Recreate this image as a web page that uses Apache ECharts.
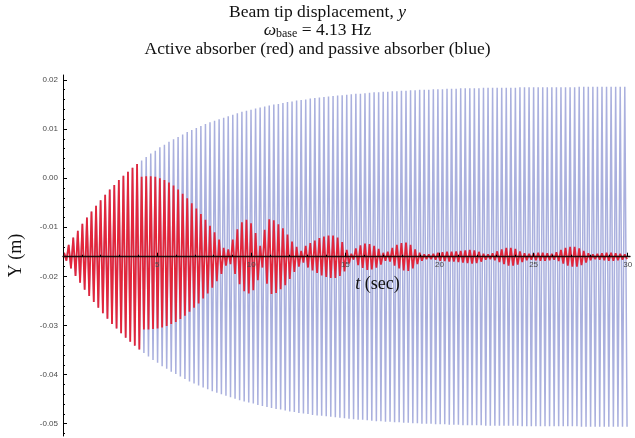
<!DOCTYPE html>
<html>
<head>
<meta charset="utf-8">
<script src="https://cdn.jsdelivr.net/npm/echarts@6/dist/echarts.min.js"></script>
<style>
  html, body { margin: 0; padding: 0; background: #fff; }
  #main { width: 635px; height: 438px; }
</style>
</head>
<body>
<div id="main"></div>
<script>
// base frequency (Hz) -> one upper and one lower peak per cycle
var baseFreq = 4.13;
var period = 1 / baseFreq;

// passive absorber (blue): peak displacements per cycle, in mm
var blueUpperMm = [
  -15.2, -13.6, -12.1, -10.7, -9.3, -8.0, -6.8, -5.6, -4.5, -3.4,
  -2.3, -1.4, -0.4, 0.5, 1.3, 2.1, 2.9, 3.6, 4.3, 5.0,
  5.6, 6.3, 6.8, 7.4, 7.9, 8.4, 8.9, 9.4, 9.8, 10.2,
  10.6, 11.0, 11.4, 11.7, 12.0, 12.3, 12.6, 12.9, 13.2, 13.5,
  13.7, 13.9, 14.2, 14.4, 14.6, 14.8, 15.0, 15.1, 15.3, 15.5,
  15.6, 15.8, 15.9, 16.0, 16.2, 16.3, 16.4, 16.5, 16.6, 16.7,
  16.8, 16.9, 17.0, 17.1, 17.2, 17.2, 17.3, 17.4, 17.5, 17.5,
  17.6, 17.6, 17.7, 17.7, 17.8, 17.8, 17.9, 17.9, 18.0, 18.0,
  18.0, 18.1, 18.1, 18.1, 18.2, 18.2, 18.2, 18.3, 18.3, 18.3,
  18.3, 18.3, 18.4, 18.4, 18.4, 18.4, 18.4, 18.4, 18.4, 18.4,
  18.5, 18.5, 18.5, 18.5, 18.5, 18.5, 18.5, 18.5, 18.5, 18.5,
  18.5, 18.5, 18.5, 18.6, 18.6, 18.6, 18.6, 18.6, 18.6, 18.6,
  18.6, 18.6, 18.6, 18.6
];
var blueLowerMm = [
  -16.8, -18.4, -19.9, -21.3, -22.7, -24.0, -25.2, -26.4, -27.5, -28.6,
  -29.7, -30.6, -31.6, -32.5, -33.3, -34.1, -34.9, -35.6, -36.3, -37.0,
  -37.6, -38.3, -38.8, -39.4, -39.9, -40.4, -40.9, -41.4, -41.8, -42.2,
  -42.6, -43.0, -43.4, -43.7, -44.0, -44.3, -44.6, -44.9, -45.2, -45.5,
  -45.7, -45.9, -46.2, -46.4, -46.6, -46.8, -47.0, -47.1, -47.3, -47.5,
  -47.6, -47.8, -47.9, -48.0, -48.2, -48.3, -48.4, -48.5, -48.6, -48.7,
  -48.8, -48.9, -49.0, -49.1, -49.2, -49.2, -49.3, -49.4, -49.5, -49.5,
  -49.6, -49.6, -49.7, -49.7, -49.8, -49.8, -49.9, -49.9, -50.0, -50.0,
  -50.0, -50.1, -50.1, -50.1, -50.2, -50.2, -50.2, -50.3, -50.3, -50.3,
  -50.3, -50.3, -50.4, -50.4, -50.4, -50.4, -50.4, -50.4, -50.4, -50.4,
  -50.5, -50.5, -50.5, -50.5, -50.5, -50.5, -50.5, -50.5, -50.5, -50.5,
  -50.5, -50.5, -50.5, -50.6, -50.6, -50.6, -50.6, -50.6, -50.6, -50.6,
  -50.6, -50.6, -50.6, -50.6
];

// active absorber (red): peak displacements per cycle, in mm
var redUpperMm = [
  -15.2, -13.6, -12.1, -10.7, -9.3, -8.0, -6.8, -5.6, -4.5, -3.4,
  -2.3, -1.4, -0.4, 0.5, 1.3, 2.1, 2.9,
  0.3, 0.4, 0.4, 0.3, 0.0, -0.4, -0.9, -1.5, -2.3, -3.2,
  -4.1, -5.1, -6.2, -7.3, -8.5, -9.7, -11.0, -12.5, -14.2,
  -14.5, -12.5, -10.4, -9.0, -8.5, -9.2, -11.2, -13.8,
  -10.5, -8.4, -8.6, -9.4, -10.2, -11.5, -12.9, -14.0, -14.8,
  -13.8, -13.2, -12.7, -12.2, -11.9, -11.7, -11.7, -12.1, -13.0, -14.6, -15.4,
  -14.3, -13.7, -13.3, -13.4, -13.8, -14.4, -15.2,
  -15.0, -14.2, -13.6, -13.2, -13.1, -13.6, -14.5, -15.2,
  -15.5, -15.5, -15.4,
  -15.2, -15.1, -15.0, -15.0, -14.9, -14.8, -14.7, -14.6, -14.7, -15.0, -15.4, -15.5,
  -15.3, -14.9, -14.5, -14.2, -14.2, -14.4, -14.9, -15.3,
  -15.4, -15.3, -15.2, -15.2, -15.3, -15.4,
  -15.1, -14.6, -14.2, -14.0, -14.0, -14.3, -14.8, -15.3,
  -15.5, -15.4, -15.3, -15.2, -15.2, -15.3, -15.4, -15.5
];
var redLowerMm = [
  -16.8, -18.4, -19.9, -21.3, -22.7, -24.0, -25.2, -26.4, -27.5, -28.6,
  -29.7, -30.6, -31.6, -32.5, -33.3, -34.1, -34.9,
  -30.8, -30.8, -30.7, -30.6, -30.4, -30.1, -29.7, -29.3, -28.7, -28.0,
  -27.2, -26.4, -25.5, -24.5, -23.5, -22.3, -21.0, -19.5, -17.8,
  -17.5, -19.5, -21.6, -23.0, -23.5, -22.8, -20.8, -18.2,
  -21.5, -23.6, -23.4, -22.6, -21.8, -20.5, -19.1, -18.0, -17.2,
  -18.2, -18.8, -19.3, -19.8, -20.1, -20.3, -20.3, -19.9, -19.0, -17.4, -16.6,
  -17.7, -18.3, -18.7, -18.6, -18.2, -17.6, -16.8,
  -17.0, -17.8, -18.4, -18.8, -18.9, -18.4, -17.5, -16.8,
  -16.5, -16.5, -16.6,
  -16.8, -16.9, -17.0, -17.0, -17.1, -17.2, -17.3, -17.4, -17.3, -17.0, -16.6, -16.5,
  -16.7, -17.1, -17.5, -17.8, -17.8, -17.6, -17.1, -16.7,
  -16.6, -16.7, -16.8, -16.8, -16.7, -16.6,
  -16.9, -17.4, -17.8, -18.0, -18.0, -17.7, -17.2, -16.7,
  -16.5, -16.6, -16.7, -16.8, -16.8, -16.7, -16.6, -16.5
];

// axes
var yMajorTicks = [-0.05, -0.04, -0.03, -0.02, -0.01, 0.00, 0.01, 0.02];
var xMajorTicks = [5, 10, 15, 20, 25, 30];
var axisCrossY = -0.016;   // the t axis is drawn through this y value
var yMin = -0.0525, yMax = 0.021;
var xMin = 0, xMax = 30.12;

var yMinorTicks = [];
for (var i = -26; i <= 10; i++) {
  if (i % 5 !== 0) yMinorTicks.push(i * 0.002);
}
var xMinorTicks = [];
for (var j = 1; j < 30; j++) {
  if (j % 5 !== 0) xMinorTicks.push(j);
}

function zigzag(up, lo) {
  var pts = [];
  for (var k = 0; k < up.length; k++) {
    pts.push([(k + 0.25) * period, up[k] / 1000]);
    pts.push([(k + 0.75) * period, lo[k] / 1000]);
  }
  return pts;
}

// plot box
var plotLeft = 63, plotRight = 5, plotTop = 75, plotHeight = 361;
// second (empty) grid whose bottom edge sits on y = axisCrossY, carries the t axis
var crossHeight = plotHeight * (yMax - axisCrossY) / (yMax - yMin);

var serif = '"Liberation Serif", "DejaVu Serif", serif';
var tickFont = { color: '#4a4a4a', fontSize: 8, fontFamily: '"Liberation Sans", Arial, sans-serif' };

var chart = echarts.init(document.getElementById('main'));

var option = {
  animation: false,
  backgroundColor: '#fff',
  title: {
    left: 'center',
    top: 3,
    padding: 0,
    text: 'Beam tip displacement, {i|y}\n{i|\u03c9}{sub|base} = 4.13 Hz\nActive absorber (red) and passive absorber (blue)',
    textStyle: {
      fontFamily: serif, fontSize: 17.5, fontWeight: 'normal', color: '#111', lineHeight: 18.5,
      rich: {
        i: { fontStyle: 'italic', fontFamily: serif, fontSize: 17.5, color: '#111', lineHeight: 18.5 },
        sub: { fontFamily: serif, fontSize: 12, color: '#111', lineHeight: 8, verticalAlign: 'bottom' }
      }
    }
  },
  grid: [
    { left: plotLeft, right: plotRight, top: plotTop, height: plotHeight, containLabel: false, outerBoundsMode: 'none' },
    { left: plotLeft, right: plotRight, top: plotTop, height: crossHeight, containLabel: false, outerBoundsMode: 'none' }
  ],
  xAxis: [
    {
      gridIndex: 0, type: 'value', min: xMin, max: xMax, show: false
    },
    {
      gridIndex: 1, type: 'value', min: xMin, max: xMax, position: 'bottom', z: 10,
      axisLine: { onZero: false, lineStyle: { color: '#1a0a0a', width: 1.3 } },
      axisTick: { inside: true, length: 4, customValues: xMajorTicks, lineStyle: { color: '#000' } },
      axisLabel: { customValues: xMajorTicks, margin: 4, ...tickFont },
      splitLine: { show: false },
      name: '{i|t} (sec)',
      nameLocation: 'middle',
      nameGap: 19,
      nameTextStyle: {
        fontFamily: serif, fontSize: 18, color: '#111', padding: [0, 0, 0, 62],
        rich: { i: { fontStyle: 'italic', fontFamily: serif, fontSize: 18 } }
      }
    },
    {
      gridIndex: 1, type: 'value', min: xMin, max: xMax, position: 'bottom', z: 10,
      axisLine: { show: false, onZero: false },
      axisTick: { inside: true, length: 2, customValues: xMinorTicks, lineStyle: { color: '#000' } },
      axisLabel: { show: false },
      splitLine: { show: false }
    }
  ],
  yAxis: [
    {
      gridIndex: 0, type: 'value', min: yMin, max: yMax, position: 'left', z: 5,
      axisLine: { show: true, onZero: false, lineStyle: { color: '#000', width: 1 } },
      axisTick: { show: true, inside: true, length: 4, customValues: yMajorTicks, lineStyle: { color: '#000' } },
      axisLabel: {
        customValues: yMajorTicks, margin: 5, ...tickFont,
        formatter: function (v) { return v.toFixed(2); }
      },
      splitLine: { show: false },
      name: 'Y (m)',
      nameLocation: 'middle',
      nameRotate: 90,
      nameGap: 38,
      nameTextStyle: { fontFamily: serif, fontSize: 18, color: '#111' }
    },
    {
      gridIndex: 0, type: 'value', min: yMin, max: yMax, position: 'left', z: 5,
      axisLine: { show: false, onZero: false },
      axisTick: { show: true, inside: true, length: 2, customValues: yMinorTicks, lineStyle: { color: '#000' } },
      axisLabel: { show: false },
      splitLine: { show: false }
    },
    {
      gridIndex: 1, type: 'value', min: axisCrossY, max: yMax, show: false
    }
  ],
  series: [
    {
      name: 'passive', type: 'line', xAxisIndex: 0, yAxisIndex: 0,
      data: zigzag(blueUpperMm, blueLowerMm),
      showSymbol: false, silent: true, sampling: null, z: 1,
      lineStyle: { color: '#aab0de', width: 1.5 }
    },
    {
      name: 'active', type: 'line', xAxisIndex: 0, yAxisIndex: 0,
      data: zigzag(redUpperMm, redLowerMm),
      showSymbol: false, silent: true, sampling: null, z: 2,
      lineStyle: { color: '#e2263b', width: 1.8 }
    }
  ]
};

chart.setOption(option);
</script>
</body>
</html>
